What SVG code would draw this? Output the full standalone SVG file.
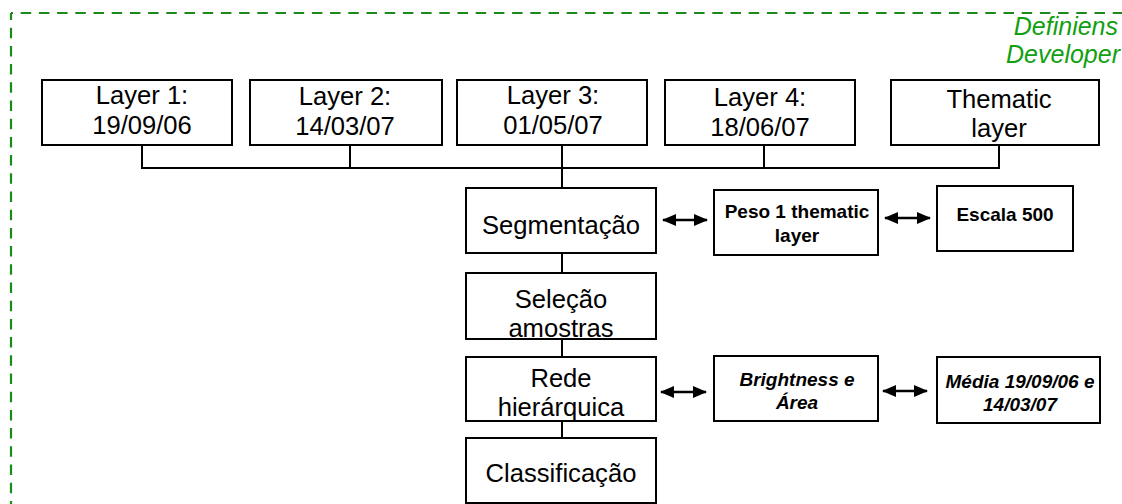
<svg xmlns="http://www.w3.org/2000/svg" width="1122" height="504" viewBox="0 0 1122 504">
<defs>
<marker id="ah" viewBox="0 0 14 12" refX="13" refY="6" markerWidth="14" markerHeight="12" markerUnits="userSpaceOnUse" orient="auto-start-reverse">
<path d="M0,0 L14,6 L0,12 Z" fill="#000"/>
</marker>
</defs>
<style>
.box{fill:#fff;stroke:#000;stroke-width:2}
.t{font-family:"Liberation Sans",Arial,sans-serif;font-size:25.6px;fill:#000;text-anchor:middle}
.b{font-family:"Liberation Sans",Arial,sans-serif;font-size:19px;font-weight:bold;fill:#000;text-anchor:middle}
.bi{font-style:italic}
.ln{stroke:#000;stroke-width:2;fill:none}
.arr{stroke:#000;stroke-width:2.7;fill:none;marker-start:url(#ah);marker-end:url(#ah)}
.g{font-family:"Liberation Sans",Arial,sans-serif;font-size:25px;font-style:italic;fill:#11a011;text-anchor:end}
.dash{fill:none;stroke:#1a8a1a;stroke-width:2.2;stroke-dasharray:10.5 7.7}
</style>
<rect width="1122" height="504" fill="#fff"/>
<g id="frame">
<path class="dash" d="M11,13 H1140" stroke-dashoffset="8.5"/>
<path class="dash" d="M11,13 V520" stroke-dashoffset="3.5"/>
</g>
<g id="frame-label">
<text class="g" x="1118" y="35">Definiens</text>
<text class="g" x="1120" y="63">Developer</text>
</g>
<g id="connectors">
<path class="ln" d="M142,145 V168 H999 V145 M350,145 V168 M764,145 V168 M562,145 V188 M562,253 V273 M562,339 V357 M562,421 V438"/>
<path class="arr" d="M663,220 H707"/>
<path class="arr" d="M885,218 H930"/>
<path class="arr" d="M661,392 H706"/>
<path class="arr" d="M883,391 H927"/>
</g>
<g id="layer1"><rect class="box" x="42" y="80" width="190" height="65"/><text class="t" x="142" y="104">Layer 1:</text><text class="t" x="142" y="134">19/09/06</text></g>
<g id="layer2"><rect class="box" x="250" y="80" width="192" height="65"/><text class="t" x="345" y="105">Layer 2:</text><text class="t" x="345" y="135">14/03/07</text></g>
<g id="layer3"><rect class="box" x="457" y="80" width="190" height="65"/><text class="t" x="553" y="104">Layer 3:</text><text class="t" x="553" y="134">01/05/07</text></g>
<g id="layer4"><rect class="box" x="665" y="80" width="190" height="65"/><text class="t" x="760" y="106">Layer 4:</text><text class="t" x="760" y="136">18/06/07</text></g>
<g id="thematic"><rect class="box" x="891" y="80" width="208" height="65"/><text class="t" x="999" y="108">Thematic</text><text class="t" x="999" y="137">layer</text></g>
<g id="segmentacao"><rect class="box" x="466" y="188" width="190" height="65"/><text class="t" x="561" y="234">Segmentação</text></g>
<g id="selecao"><rect class="box" x="466" y="273" width="190" height="66"/><text class="t" x="561" y="308">Seleção</text><text class="t" x="561" y="337">amostras</text></g>
<g id="rede"><rect class="box" x="466" y="357" width="190" height="64"/><text class="t" x="561" y="387">Rede</text><text class="t" x="561" y="416">hierárquica</text></g>
<g id="classificacao"><rect class="box" x="466" y="438" width="190" height="65"/><text class="t" x="561" y="482">Classificação</text></g>
<g id="peso"><rect class="box" x="714" y="190" width="164" height="65"/><text class="b" x="797" y="218">Peso 1 thematic</text><text class="b" x="797" y="242">layer</text></g>
<g id="escala"><rect class="box" x="937" y="186" width="136" height="65"/><text class="b" x="1005" y="221">Escala 500</text></g>
<g id="brightness"><rect class="box" x="714" y="356" width="164" height="65"/><text class="b bi" x="797" y="386">Brightness e</text><text class="b bi" x="797" y="409">Área</text></g>
<g id="media"><rect class="box" x="937" y="357" width="163" height="66"/><text class="b bi" x="1020" y="388">Média 19/09/06 e</text><text class="b bi" x="1020" y="411">14/03/07</text></g>
</svg>
